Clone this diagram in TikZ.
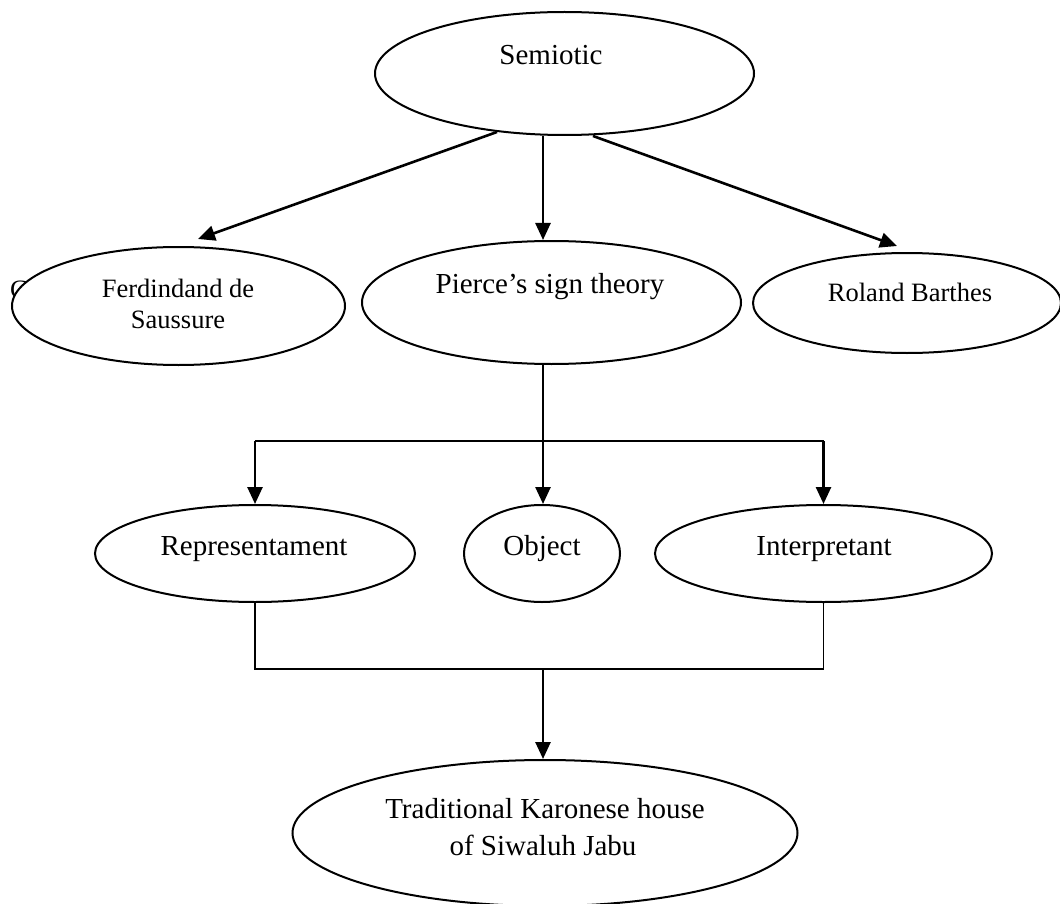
\documentclass[tikz,border=0pt]{standalone}
\usepackage{fontspec}
\setmainfont{Liberation Serif}
\usetikzlibrary{shapes.geometric,arrows.meta}
\tikzset{
  ell/.style={draw, ellipse, line width=2pt, inner sep=0pt, fill=white},
  big/.style={font=\fontsize{29}{35}\selectfont, anchor=base, inner sep=0pt},
  small/.style={font=\fontsize{26.5}{31}\selectfont, anchor=base, inner sep=0pt},
  arr/.style={line width=2.6pt, -{Triangle[length=17pt,width=15pt]}},
  thin/.style={line width=1.6pt},
  tee/.style={line width=2.2pt}
}
\begin{document}
\begin{tikzpicture}[x=1pt,y=-1pt]
\useasboundingbox (0,0) rectangle (1060,904);
% stray glyph partly hidden behind the ellipse
\node[small, anchor=base west] (stray) at (10,298) {C};
% ellipses
\node[ell, minimum width=379pt, minimum height=123pt] (semi) at (564.5,73.5) {};
\node[ell, minimum width=379pt, minimum height=123pt] (pierce) at (551.5,302.5) {};
\node[ell, minimum width=333pt, minimum height=118pt] (ferd) at (178.5,306) {};
\node[ell, minimum width=308pt, minimum height=100pt] (rol) at (907,303) {};
\node[ell, minimum width=320pt, minimum height=97pt] (rep) at (255,553.5) {};
\node[ell, minimum width=156pt, minimum height=97pt] (obj) at (542,553.5) {};
\node[ell, minimum width=337pt, minimum height=97pt] (int) at (823.5,553.5) {};
\node[ell, minimum width=505pt, minimum height=146pt] (trad) at (545,833) {};
% texts
\node[big] (tsemi) at (551,65) {Semiotic};
\node[big] (tpierce) at (550,293) {Pierce’s sign theory};
\node[small] (tferdA) at (178,297) {Ferdindand de};
\node[small] (tferdB) at (178,328) {Saussure};
\node[small] (trol) at (910,301) {Roland Barthes};
\node[big] (trep) at (254,555) {Representament};
\node[big] (tobj) at (542,555) {Object};
\node[big] (tint) at (824,555) {Interpretant};
\node[big] (ttradA) at (545,818) {Traditional Karonese house};
\node[big] (ttradB) at (543,855) {of Siwaluh Jabu};
% top arrows
\draw[arr] ([xshift=-67.5pt,yshift=4pt]semi.south) -- ([shift={(19.5pt,7pt)}]ferd.north);
\draw[arr] ([xshift=-21.5pt]semi.south) -- ([xshift=-8.5pt]pierce.north);
\draw[arr] ([xshift=28.5pt]semi.south) -- ([shift={(-10pt,6pt)}]rol.north);
% tee from Pierce
\coordinate (j1) at (543,441);
\draw[thin] ([xshift=-8.5pt]pierce.south) -- (j1);
\draw[tee] (j1 -| rep.north) -- (j1 -| int.north);
\draw[arr] (j1 -| rep.north) -- (rep.north);
\draw[arr] (j1) -- (j1 |- obj.north);
\draw[arr] (j1 -| int.north) -- (int.north);
% bracket to Traditional house
\coordinate (j2) at (543,669);
\draw[thin] (rep.south) -- (rep.south |- j2) -- (int.south |- j2) -- (int.south);
\draw[arr] (j2) -- (j2 |- trad.north);
\end{tikzpicture}
\end{document}
